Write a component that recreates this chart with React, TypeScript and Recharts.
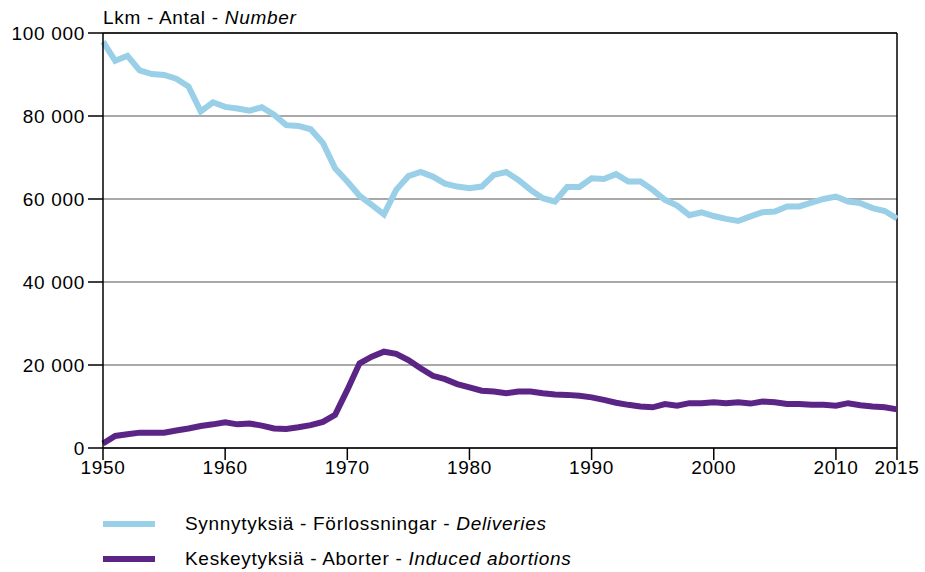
import React from 'react'
import { LineChart, Line, XAxis, YAxis, CartesianGrid, ReferenceLine } from 'recharts'

const years = [
  1950, 1951, 1952, 1953, 1954, 1955, 1956, 1957, 1958, 1959,
  1960, 1961, 1962, 1963, 1964, 1965, 1966, 1967, 1968, 1969,
  1970, 1971, 1972, 1973, 1974, 1975, 1976, 1977, 1978, 1979,
  1980, 1981, 1982, 1983, 1984, 1985, 1986, 1987, 1988, 1989,
  1990, 1991, 1992, 1993, 1994, 1995, 1996, 1997, 1998, 1999,
  2000, 2001, 2002, 2003, 2004, 2005, 2006, 2007, 2008, 2009,
  2010, 2011, 2012, 2013, 2014, 2015,
]

const deliveries = [
  97900, 93300, 94500, 91000, 90100, 89900, 89000, 87100, 81100, 83300,
  82200, 81800, 81300, 82100, 80300, 77800, 77600, 76800, 73500, 67400,
  64200, 60800, 58600, 56300, 62200, 65500, 66500, 65400, 63700, 63000,
  62600, 63000, 65800, 66500, 64600, 62200, 60200, 59400, 62900, 62900,
  65000, 64800, 66000, 64200, 64200, 62200, 59800, 58400, 56100, 56800,
  55900, 55200, 54700, 55800, 56800, 57000, 58200, 58200, 59100, 60000,
  60600, 59400, 59000, 57800, 57100, 55300,
]

const abortions = [
  1100, 2900, 3300, 3700, 3700, 3700, 4200, 4700, 5300, 5700,
  6200, 5700, 5900, 5400, 4700, 4600, 5000, 5500, 6300, 8000,
  14000, 20400, 22000, 23200, 22700, 21200, 19200, 17400, 16600, 15400,
  14600, 13800, 13600, 13200, 13600, 13600, 13200, 12900, 12800, 12600,
  12200, 11600, 10900, 10400, 10000, 9800, 10600, 10200, 10800, 10800,
  11000, 10800, 11000, 10700, 11200, 11000, 10600, 10600, 10400, 10400,
  10200, 10800, 10300, 10000, 9800, 9300,
]

const xTicks = [1950, 1960, 1970, 1980, 1990, 2000, 2010, 2015]
const yTicks = [0, 20000, 40000, 60000, 80000, 100000]

const seriesNames = {
  deliveries: ['Synnytyksiä - Förlossningar - ', 'Deliveries'],
  abortions: ['Keskeytyksiä - Aborter - ', 'Induced abortions'],
}

const BLUE = '#9acfe8'
const PURPLE = '#5b2586'
const FONT = '"Liberation Sans", Arial, Helvetica, sans-serif'
const SPACING = 0.7

const data = years.map((year, i) => ({
  year,
  deliveries: deliveries[i],
  abortions: abortions[i],
}))

const formatThousands = (v: number) =>
  v.toString().replace(/\B(?=(\d{3})+(?!\d))/g, ' ')

const tickStyle = { fill: '#000', fontSize: 19, fontFamily: FONT, letterSpacing: SPACING }

const LegendRow = ({ color, label }: { color: string; label: string[] }) => (
  <div style={{ display: 'flex', alignItems: 'center', height: 35 }}>
    <div style={{ width: 52, height: 6, background: color, marginRight: 30 }} />
    <span>
      {label[0]}
      <i>{label[1]}</i>
    </span>
  </div>
)

export default function App() {
  return (
    <div
      style={{
        position: 'absolute',
        left: 0,
        top: 0,
        width: 925,
        height: 572,
        background: '#fff',
        fontFamily: FONT,
        letterSpacing: SPACING,
        color: '#000',
      }}
    >
      <div style={{ position: 'absolute', left: 103, top: 7, fontSize: 19 }}>
        Lkm - Antal - <i>Number</i>
      </div>
      <LineChart
        width={925}
        height={572}
        data={data}
        margin={{ top: 33, right: 28, left: 6, bottom: 94 }}
      >
        <CartesianGrid vertical={false} stroke="#555" strokeWidth={1.2} />
        <XAxis
          dataKey="year"
          type="number"
          domain={[1950, 2015]}
          ticks={xTicks}
          interval={0}
          height={30}
          tickSize={12}
          tickMargin={1}
          axisLine={{ stroke: '#000', strokeWidth: 1.5 }}
          tickLine={{ stroke: '#000', strokeWidth: 1.5 }}
          tick={tickStyle}
        />
        <YAxis
          domain={[0, 100000]}
          ticks={yTicks}
          width={97}
          tickSize={15}
          tickMargin={3}
          tickFormatter={formatThousands}
          axisLine={{ stroke: '#000', strokeWidth: 1.5 }}
          tickLine={{ stroke: '#000', strokeWidth: 1.5 }}
          tick={tickStyle}
        />
        <ReferenceLine x={2015} stroke="#000" strokeWidth={1.5} />
        <ReferenceLine y={100000} stroke="#000" strokeWidth={1.5} />
        <Line
          dataKey="deliveries"
          stroke={BLUE}
          strokeWidth={6}
          dot={false}
          strokeLinejoin="miter"
          isAnimationActive={false}
        />
        <Line
          dataKey="abortions"
          stroke={PURPLE}
          strokeWidth={6}
          dot={false}
          isAnimationActive={false}
        />
      </LineChart>
      <div style={{ position: 'absolute', left: 103, top: 506, fontSize: 19 }}>
        <LegendRow color={BLUE} label={seriesNames.deliveries} />
        <LegendRow color={PURPLE} label={seriesNames.abortions} />
      </div>
    </div>
  )
}
